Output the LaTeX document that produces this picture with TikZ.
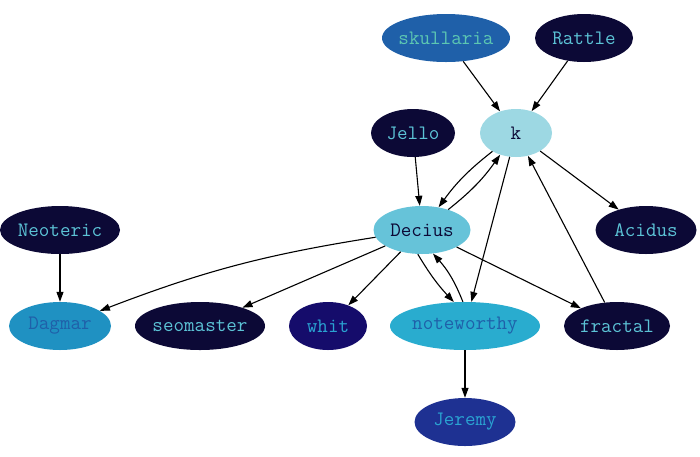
\documentclass[tikz,border=0pt]{standalone}
\usepackage{fontspec}
\usepackage{tikz}
\usepackage{xcolor}
\usetikzlibrary{shapes.geometric, arrows.meta, positioning}
\definecolor{GraphNavy}{HTML}{0C0936}
\definecolor{GraphCyan}{HTML}{5CC3D6}
\definecolor{GraphSteel}{HTML}{1F60A9}
\definecolor{GraphMint}{HTML}{5CC7B2}
\definecolor{GraphIce}{HTML}{9DD8E3}
\definecolor{GraphSky}{HTML}{66C3D9}
\definecolor{GraphOcean}{HTML}{1F91C2}
\definecolor{GraphIndigo}{HTML}{150C6B}
\definecolor{GraphTeal}{HTML}{29ACCF}
\definecolor{GraphRoyal}{HTML}{1E3192}
\definecolor{GraphAzure}{HTML}{2AA3D2}
\tikzset{
    % Ellipse styles
    person/.style={
        ellipse,
        draw=none,
        inner xsep=-10pt,
        inner ysep=0pt,
        minimum height=48pt,
        align=center,
        font=\ttfamily\fontsize{20.5}{22}\selectfont
    },
    person navy/.style={
        person,
        fill=GraphNavy,
        text=GraphCyan
    },
    arrow style/.style={
        -{Triangle[length=10pt,width=7pt]},
        line width=1.1pt,
        black
    }
}
\begin{document}
\begin{tikzpicture}[x=1pt, y=-1pt]
        \useasboundingbox (0,0) rectangle (700,456);

        % Top row
        \node[person, fill=GraphSteel, text=GraphMint, minimum width=128pt] (skullaria) at (446, 38) {skullaria};
        \node[person navy, minimum width=98pt] (rattle) at (584, 38) {Rattle};

        % Second row
        \node[person, fill=GraphIce, text=GraphNavy, minimum width=72pt] (k) at (516, 133) {k};
        \node[person navy, minimum width=84pt] (jello) at (413, 133) {Jello};

        % Third row
        \node[person navy, minimum width=120pt] (neoteric) at (60, 230) {Neoteric};
        \node[person, fill=GraphSky, text=GraphNavy, minimum width=97pt] (decius) at (422, 230) {Decius};
        \node[person navy, minimum width=101pt] (acidus) at (646, 230) {Acidus};

        % Fourth row
        \node[person, fill=GraphOcean, text=GraphSteel, minimum width=102pt] (dagmar) at (60, 326) {Dagmar};
        \node[person navy, minimum width=130pt] (seomaster) at (200, 326) {seomaster};
        \node[person, fill=GraphIndigo, text=GraphAzure, minimum width=78pt] (whit) at (328, 326) {whit};
        \node[person, fill=GraphTeal, text=GraphSteel, minimum width=150pt] (noteworthy) at (465, 326) {noteworthy};
        \node[person navy, minimum width=106pt] (fractal) at (617, 326) {fractal};

        % Bottom
        \node[person, fill=GraphRoyal, text=GraphAzure, minimum width=101pt] (jeremy) at (465, 422) {Jeremy};

        % Arrows
        \draw[arrow style] (skullaria) -- (k);
        \draw[arrow style] (rattle) -- (k);
        \draw[arrow style] (jello) -- (decius);
        \draw[arrow style] (k) to[bend right=8] (decius);
        \draw[arrow style] (decius) to[bend right=8] (k);
        \draw[arrow style] (k) -- (acidus);
        \draw[arrow style] (k) -- (noteworthy);
        \draw[arrow style] (fractal) -- (k);
        \draw[arrow style] (neoteric) -- (dagmar);
        \draw[arrow style] (decius) to[bend right=6] (dagmar);
        \draw[arrow style] (decius) -- (seomaster);
        \draw[arrow style] (decius) -- (whit);
        \draw[arrow style] (decius.-100) to[bend right=6] (noteworthy.115);
        \draw[arrow style] (noteworthy.95) to[bend right=10] (decius.-65);
        \draw[arrow style] (decius) -- (fractal);
        \draw[arrow style] (noteworthy) -- (jeremy);
    \end{tikzpicture}
\end{document}
